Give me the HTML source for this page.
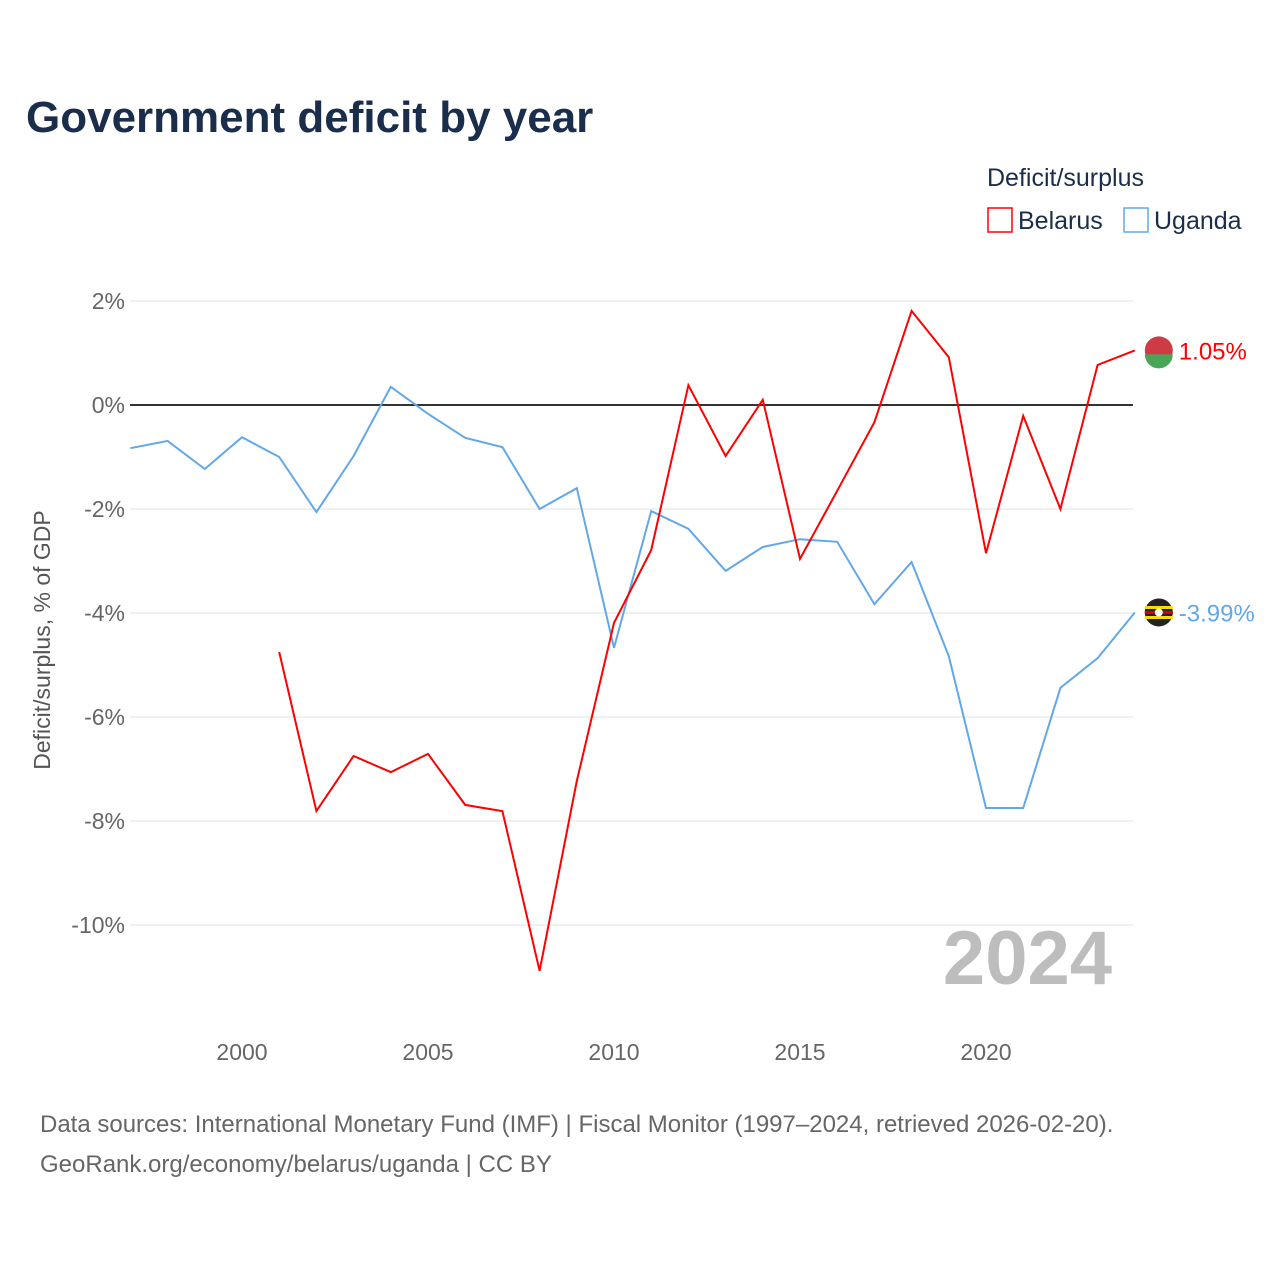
<!DOCTYPE html>
<html><head><meta charset="utf-8"><style>
body{margin:0;background:#fff;font-family:"Liberation Sans",sans-serif}
</style></head><body>
<svg width="1280" height="1280" xmlns="http://www.w3.org/2000/svg" style="font-family:'Liberation Sans',sans-serif">
<text x="26" y="132" font-size="44" font-weight="bold" fill="#1a2e4c">Government deficit by year</text>
<text x="987" y="186" font-size="25" fill="#1a2e4c">Deficit/surplus</text>
<g><rect x="988" y="208" width="24" height="24" fill="none" stroke="#ff0000" stroke-width="1.5"/><text x="1018" y="229" font-size="25" fill="#1a2e4c">Belarus</text></g>
<g><rect x="1124" y="208" width="24" height="24" fill="none" stroke="#62a8e8" stroke-width="1.5"/><text x="1154" y="229" font-size="25" fill="#1a2e4c">Uganda</text></g>
<g id="grid"></g>
<g id="xticks"></g>
<g id="series"></g>
<text x="1112" y="984" font-size="76" font-weight="bold" fill="#bdbdbd" text-anchor="end">2024</text>
<text transform="translate(50,640) rotate(-90)" font-size="23" fill="#555" text-anchor="middle">Deficit/surplus, % of GDP</text>
<text x="40" y="1132" font-size="24" fill="#666">Data sources: International Monetary Fund (IMF) | Fiscal Monitor (1997–2024, retrieved 2026-02-20).</text>
<text x="40" y="1172" font-size="24" fill="#666">GeoRank.org/economy/belarus/uganda | CC BY</text>
</svg>
<script>
const years=[1997,1998,1999,2000,2001,2002,2003,2004,2005,2006,2007,2008,2009,2010,2011,2012,2013,2014,2015,2016,2017,2018,2019,2020,2021,2022,2023,2024];
const uganda=[-0.83,-0.69,-1.23,-0.62,-1.0,-2.06,-0.98,0.35,-0.17,-0.63,-0.81,-2.0,-1.6,-4.67,-2.04,-2.38,-3.19,-2.73,-2.58,-2.63,-3.83,-3.02,-4.83,-7.75,-7.75,-5.44,-4.87,-3.99];
const belarus=[null,null,null,null,-4.75,-7.81,-6.75,-7.06,-6.71,-7.69,-7.81,-10.88,-7.23,-4.19,-2.79,0.38,-0.98,0.1,-2.96,-1.65,-0.33,1.81,0.92,-2.85,-0.21,-2.0,0.77,1.05];
const yTicks=[2,0,-2,-4,-6,-8,-10];
const xTicks=[2000,2005,2010,2015,2020];
const NS="http://www.w3.org/2000/svg";
const X=y=>130.4+(y-1997)*37.2, Y=v=>405-v*52;
function el(t,a,p){const e=document.createElementNS(NS,t);for(const k in a)e.setAttribute(k,a[k]);p.appendChild(e);return e;}
const g=document.getElementById('grid');
yTicks.forEach(v=>{
 const l=el('line',{x1:130,x2:1133,y1:Y(v),y2:Y(v),stroke:v===0?'#333':'#e6e6e6','stroke-width':v===0?2:1.2},g);
 
 
 const t=el('text',{x:125,y:Y(v)+8,'font-size':23,fill:'#666','text-anchor':'end'},g);
 t.textContent=v+'%';
 
 
});
const xt=document.getElementById('xticks');
xTicks.forEach(v=>{
 const t=el('text',{x:X(v),y:1060,'font-size':23,fill:'#666','text-anchor':'middle'},xt);
 t.textContent=v;
 
 
});
const s=document.getElementById('series');
function line(data,color,name){
 let d='';data.forEach((v,i)=>{if(v===null)return;d+=(d?'L':'M')+X(years[i]).toFixed(1)+','+Y(v).toFixed(1);});
 const p=el('path',{d:d,fill:'none',stroke:color,'stroke-width':2},s);
 
 
 const last=data[data.length-1],lx=X(years[years.length-1]),ly=Y(last);
 const c=el('circle',{cx:lx+24,cy:ly,r:14,fill:name==='belarus'?'#cf3b45':'#222'},s);
 
 
 if(name==='belarus'){const h=el('path',{d:`M${lx+10},${ly+4}A14,14 0 0 0 ${lx+38},${ly+4}Z`,fill:'#4aa657'},s);}
 else{[['#fcdc04',-5],['#d90000',0],['#fcdc04',5]].forEach(([col,o])=>{const r=el('rect',{x:lx+10,y:ly+o-1.5,width:28,height:3,fill:col},s);});
 const w=el('circle',{cx:lx+24,cy:ly,r:4,fill:'#fff'},s);}
 const t=el('text',{x:lx+44,y:ly+9,'font-size':24,fill:color},s);
 t.textContent=last.toFixed(2)+'%';
 
 
}
line(uganda,'#62a8e8','uganda');
line(belarus,'#ff0000','belarus');
</script>
</body></html>
